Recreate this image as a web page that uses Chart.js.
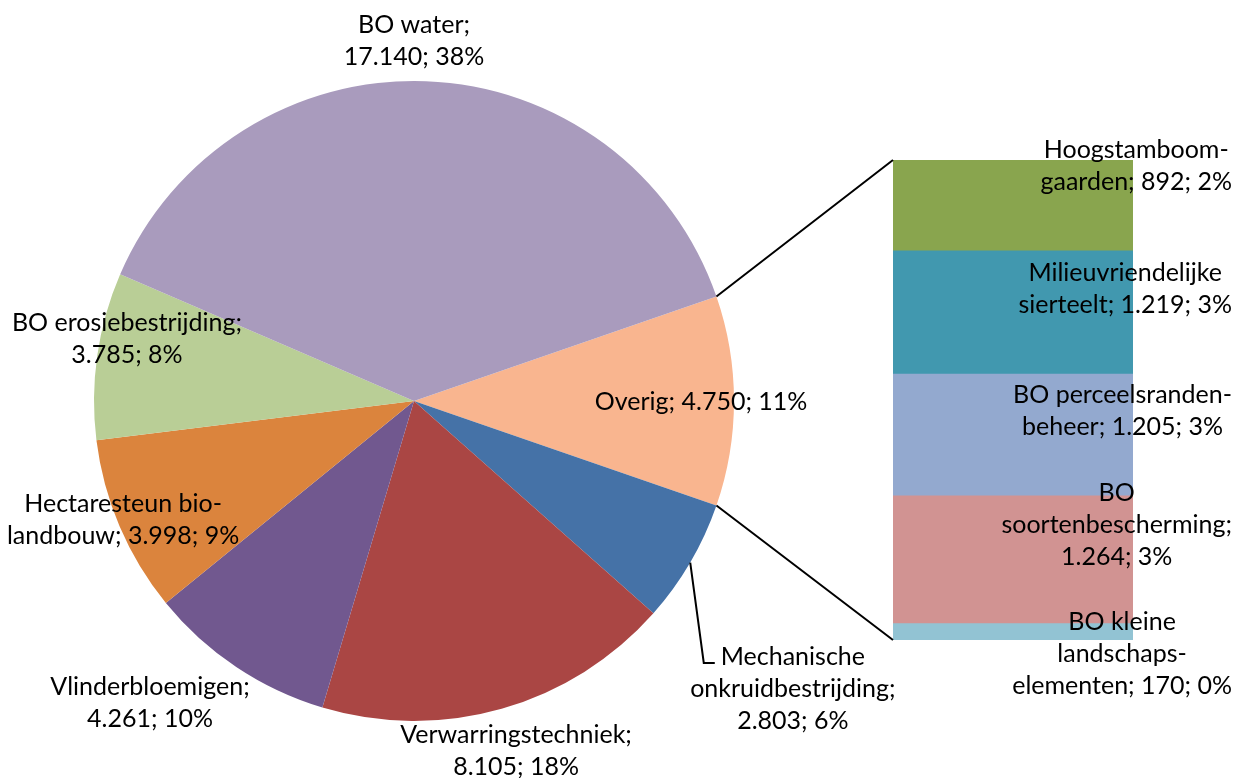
<!DOCTYPE html>
<html>
<head>
<meta charset="utf-8">
<script src="https://cdn.jsdelivr.net/npm/chart.js@4/dist/chart.umd.min.js"></script>
<style>
html, body { margin: 0; padding: 0; background: #fff; }
#wrap { position: relative; width: 1236px; height: 778px; }
canvas { position: absolute; left: 0; top: 0; }
</style>
</head>
<body>
<div id="wrap">
  <canvas id="pieChart" width="1236" height="778"></canvas>
  <canvas id="barChart" width="1236" height="778"></canvas>
</div>
<script>
// pie: Overig is split out in the bar on the right
const pieLabels = ['Overig', 'Mechanische onkruidbestrijding', 'Verwarringstechniek', 'Vlinderbloemigen', 'Hectaresteun bio-landbouw', 'BO erosiebestrijding', 'BO water'];
const pieValues = [4750, 2803, 8105, 4261, 3998, 3785, 17140];
const pieColors = ['#F9B58F', '#4572A7', '#AA4644', '#71588F', '#DB843D', '#B9CE96', '#A99BBD'];
// wrapped label text, '#' becomes "value; pct"
const pieText = [['Overig; #'], ['Mechanische', 'onkruidbestrijding;', '#'], ['Verwarringstechniek;', '#'], ['Vlinderbloemigen;', '#'], ['Hectaresteun bio-', 'landbouw; #'], ['BO erosiebestrijding;', '#'], ['BO water;', '#']];

const barLabels = ['Hoogstamboomgaarden', 'Milieuvriendelijke sierteelt', 'BO perceelsrandenbeheer', 'BO soortenbescherming', 'BO kleine landschapselementen'];
const barValues = [892, 1219, 1205, 1264, 170];
const barColors = ['#89A54E', '#4198AF', '#93A9CF', '#D19392', '#92C3D3'];
const barText = [['Hoogstamboom-', 'gaarden; #'], ['Milieuvriendelijke', 'sierteelt; #'], ['BO perceelsranden-', 'beheer; #'], ['BO', 'soortenbescherming;', '#'], ['BO kleine', 'landschaps-', 'elementen; #']];

// label placement (pie: centre offset in radius units; bar: px from segment middle)
const pieLabelPos = [[0.897, 0.003], [1.184, 0.9], [0.319, 1.094], [-0.825, 0.944], [-0.909, 0.372], [-0.897, -0.194], [0, -1.125]];
const barLabelDy = [-39, -23, -23, -34, 23];

const FONT = '25px Lato';
const LINE_H = 32;
const total = pieValues.reduce((a, b) => a + b, 0);

function fmt(v) {
    const n = String(v).replace(/\B(?=(\d{3})+(?!\d))/g, '.');
    return n + '; ' + Math.round(v / total * 100) + '%';
}

function drawBlock(ctx, lines, cx, cy) {
    const y0 = cy - (lines.length - 1) * LINE_H / 2;
    lines.forEach((t, i) => ctx.fillText(t, cx, y0 + i * LINE_H));
    return y0;
}

const pieLabelPlugin = {
    id: 'pieLabels',
    afterDraw(chart) {
        const ctx = chart.ctx;
        const arcs = chart.getDatasetMeta(0).data;
        const cx = arcs[0].x, cy = arcs[0].y, r = arcs[0].outerRadius;
        ctx.save();
        ctx.font = FONT;
        ctx.fillStyle = '#000';
        ctx.textAlign = 'center';
        ctx.textBaseline = 'middle';
        pieText.forEach((lines, i) => {
            const txt = lines.map(l => l.replace('#', fmt(pieValues[i])));
            const lx = cx + pieLabelPos[i][0] * r;
            const ly = cy + pieLabelPos[i][1] * r;
            const y0 = drawBlock(ctx, txt, lx, ly);
            if (i === 1) {
                // leader line for the small slice
                const a = (arcs[i].startAngle + arcs[i].endAngle) / 2;
                const left = lx - ctx.measureText(txt[0]).width / 2;
                ctx.beginPath();
                ctx.moveTo(cx + r * Math.cos(a), cy + r * Math.sin(a));
                ctx.lineTo(left - 17, y0 + 6);
                ctx.lineTo(left - 6, y0 + 6);
                ctx.strokeStyle = '#000';
                ctx.lineWidth = 2;
                ctx.stroke();
            }
        });
        ctx.restore();
    }
};

const pieChart = new Chart(document.getElementById('pieChart'), {
    type: 'pie',
    data: {
        labels: pieLabels,
        datasets: [{ data: pieValues, backgroundColor: pieColors, borderWidth: 0 }]
    },
    options: {
        responsive: false,
        animation: false,
        rotation: 90 - (pieValues[0] / total * 360) / 2,
        layout: { padding: { left: 94, right: 502, top: 81, bottom: 57 } },
        events: [],
        plugins: { legend: { display: false }, tooltip: { enabled: false } }
    },
    plugins: [pieLabelPlugin]
});

const barLabelPlugin = {
    id: 'barLabels',
    afterDraw(chart) {
        const ctx = chart.ctx;
        const area = chart.chartArea;
        ctx.save();
        // connector lines from the Overig slice to the bar
        const arc = pieChart.getDatasetMeta(0).data[0];
        ctx.strokeStyle = '#000';
        ctx.lineWidth = 2;
        ctx.beginPath();
        ctx.moveTo(arc.x + arc.outerRadius * Math.cos(arc.startAngle), arc.y + arc.outerRadius * Math.sin(arc.startAngle));
        ctx.lineTo(area.left, area.top);
        ctx.moveTo(arc.x + arc.outerRadius * Math.cos(arc.endAngle), arc.y + arc.outerRadius * Math.sin(arc.endAngle));
        ctx.lineTo(area.left, area.bottom);
        ctx.stroke();

        ctx.font = FONT;
        ctx.fillStyle = '#000';
        ctx.textAlign = 'center';
        ctx.textBaseline = 'middle';
        barText.forEach((lines, i) => {
            const bar = chart.getDatasetMeta(i).data[0];
            const txt = lines.map(l => l.replace('#', fmt(barValues[i])));
            const w = Math.max(...txt.map(t => ctx.measureText(t).width));
            const right = area.right + 99;
            const mid = (bar.y + bar.base) / 2;
            drawBlock(ctx, txt, right - w / 2, mid + barLabelDy[i]);
        });
        ctx.restore();
    }
};

new Chart(document.getElementById('barChart'), {
    type: 'bar',
    data: {
        labels: ['Overig'],
        datasets: barValues.map((v, i) => ({
            label: barLabels[i],
            data: [v],
            backgroundColor: barColors[i],
            borderWidth: 0,
            barPercentage: 1,
            categoryPercentage: 1
        }))
    },
    options: {
        responsive: false,
        animation: false,
        events: [],
        layout: { padding: { left: 893, right: 103, top: 160, bottom: 138 } },
        scales: {
            x: { stacked: true, display: false },
            y: { stacked: true, display: false, reverse: true, min: 0, max: pieValues[0] }
        },
        plugins: { legend: { display: false }, tooltip: { enabled: false } }
    },
    plugins: [barLabelPlugin]
});
</script>
</body>
</html>
